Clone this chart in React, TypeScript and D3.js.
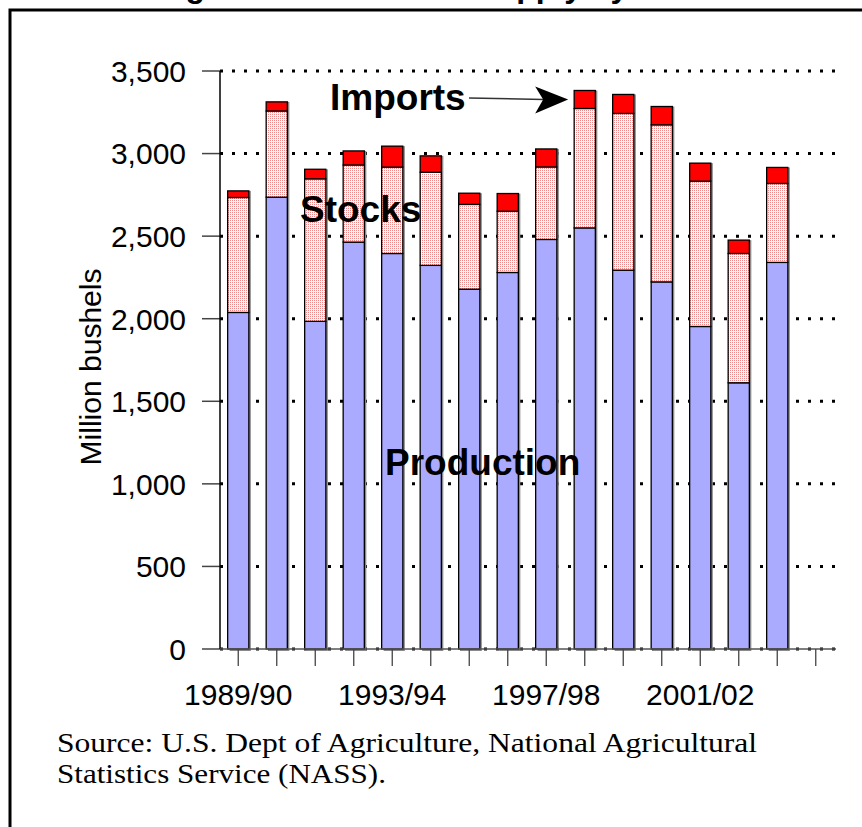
import React from 'react';
import * as d3 from 'd3';

// marketing years shown on the x axis (last slot has no bar)
const seasons = [
  '1989/90', '1990/91', '1991/92', '1992/93', '1993/94', '1994/95', '1995/96', '1996/97',
  '1997/98', '1998/99', '1999/00', '2000/01', '2001/02', '2002/03', '2003/04', '2004/05',
];
// million bushels
const production = [2038, 2736, 1984, 2464, 2395, 2323, 2179, 2280, 2480, 2550, 2294, 2223, 1953, 1612, 2341];
const stocks = [696, 522, 863, 467, 523, 564, 513, 371, 439, 723, 949, 951, 880, 783, 478];
const imports = [40, 55, 58, 85, 127, 99, 68, 107, 109, 109, 115, 111, 109, 81, 97];

const yTicks = [0, 500, 1000, 1500, 2000, 2500, 3000, 3500];
const labeledSeasons = ['1989/90', '1993/94', '1997/98', '2001/02'];
const keys = ['production', 'stocks', 'imports'] as const;

const W = 862;
const H = 827;
const left = 220;
const right = 836;
const top = 71;
const bottom = 649;
const sans = '"Liberation Sans", Arial, sans-serif';
const serif = '"Liberation Serif", "Times New Roman", serif';

const fills: Record<string, string> = {
  production: '#aaaaff',
  stocks: 'url(#stipple)',
  imports: '#ff0000',
};

export default function App() {
  const rows = production.map((p, i) => ({
    season: seasons[i],
    production: p,
    stocks: stocks[i],
    imports: imports[i],
  }));

  const series = d3.stack<any>().keys(keys as any)(rows);

  const x = d3.scaleBand<string>()
    .domain(seasons)
    .range([left - 1, right - 1])
    .paddingInner(0.45)
    .paddingOuter(0.225);

  const y = d3.scaleLinear().domain([0, 3500]).range([bottom, top]);
  const fmt = d3.format(',');
  const bw = x.bandwidth();
  const cx = (s: string) => (x(s) ?? 0) + bw / 2;

  // arrow points at the 1998/99 imports segment
  const arrowSeason = '1998/99';
  const ai = seasons.indexOf(arrowSeason);
  const tipX = (x(arrowSeason) ?? 0) - 6;
  const tipY = y(production[ai] + stocks[ai] + imports[ai]) + 9;

  return (
    <svg width={W} height={H} style={{ position: 'absolute', left: 0, top: 0, background: '#fff' }}>
      <defs>
        <pattern id="stipple" width="2" height="2" patternUnits="userSpaceOnUse">
          <rect width="2" height="2" fill="#ffffff" />
          <rect width="1" height="1" fill="#ee8888" />
        </pattern>
      </defs>

      {/* title, cut off by the top of the page */}
      <text x={157} y={-3} fontFamily={sans} fontWeight="bold" fontSize={32} fill="#000">
        Figure 1. U.S. Wheat Supply by Year
      </text>

      {/* frame */}
      <rect x={10} y={10} width={W + 20} height={H + 20} fill="none" stroke="#000" strokeWidth={3} />

      {/* dotted gridlines */}
      {yTicks.map(t => (
        <line key={'g' + t} x1={left} x2={right} y1={y(t)} y2={y(t)}
          stroke="#000" strokeWidth={3} strokeDasharray="3 9" />
      ))}

      {/* y ticks and labels */}
      {yTicks.map(t => (
        <g key={'y' + t}>
          <line x1={202} x2={left} y1={y(t)} y2={y(t)} stroke="#444" strokeWidth={1.5} />
          <text x={186} y={y(t)} dy="0.36em" textAnchor="end" fontFamily={sans} fontSize={30} fill="#000">
            {fmt(t)}
          </text>
        </g>
      ))}

      {/* bar shadows */}
      {rows.map(r => (
        <rect key={'sh' + r.season} x={(x(r.season) ?? 0) + 2} width={bw}
          y={y(r.production + r.stocks + r.imports)} height={bottom - y(r.production + r.stocks + r.imports) + 2}
          fill="#8a8a8a" />
      ))}

      {/* stacked bars */}
      {series.map(s => (
        <g key={s.key}>
          {s.map((d: any) => (
            <rect key={d.data.season} x={x(d.data.season)} width={bw}
              y={y(d[1])} height={y(d[0]) - y(d[1])}
              fill={fills[s.key]} stroke="#000" strokeWidth={1.3} />
          ))}
        </g>
      ))}

      {/* axes */}
      <line x1={left} x2={left} y1={top} y2={bottom} stroke="#000" strokeWidth={1.5} />
      <line x1={left} x2={right} y1={bottom} y2={bottom} stroke="#555" strokeWidth={1.5} />
      {seasons.map(s => (
        <line key={'xt' + s} x1={cx(s)} x2={cx(s)} y1={bottom} y2={bottom + 17} stroke="#444" strokeWidth={1.3} />
      ))}
      {labeledSeasons.map(s => (
        <text key={'xl' + s} x={cx(s)} y={705} textAnchor="middle" fontFamily={sans} fontSize={30} fill="#000">
          {s}
        </text>
      ))}

      <text transform="translate(101,367) rotate(-90)" textAnchor="middle" fontFamily={sans} fontSize={29}
        textLength={197} lengthAdjust="spacingAndGlyphs" fill="#000">
        Million bushels
      </text>

      {/* series labels */}
      <text x={330} y={110} fontFamily={sans} fontWeight="bold" fontSize={37} fill="#000">Imports</text>
      <text x={300} y={222} fontFamily={sans} fontWeight="bold" fontSize={37} fill="#000">Stocks</text>
      <text x={385} y={475} fontFamily={sans} fontWeight="bold" fontSize={37} fill="#000">Production</text>

      <line x1={469} x2={tipX - 24} y1={98} y2={tipY} stroke="#333" strokeWidth={1.6} />
      <path
        d={`M${tipX},${tipY} L${tipX - 33},${tipY - 13} L${tipX - 25},${tipY} L${tipX - 33},${tipY + 14} Z`}
        fill="#000" />

      {/* source note */}
      <text x={57} y={752} fontFamily={serif} fontSize={28} textLength={700} lengthAdjust="spacingAndGlyphs" fill="#000">
        Source: U.S. Dept of Agriculture, National Agricultural
      </text>
      <text x={57} y={783} fontFamily={serif} fontSize={28} textLength={329} lengthAdjust="spacingAndGlyphs" fill="#000">
        Statistics Service (NASS).
      </text>
    </svg>
  );
}
